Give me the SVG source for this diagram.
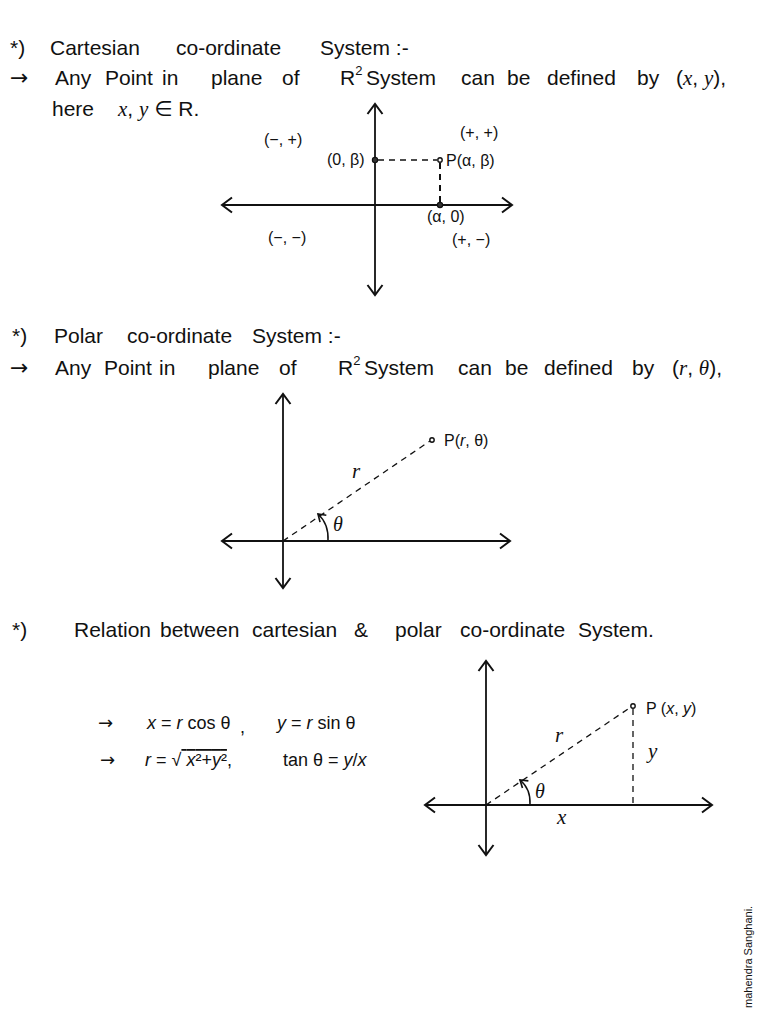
<svg xmlns="http://www.w3.org/2000/svg" width="768" height="1024" viewBox="0 0 768 1024">
<defs>
<style>
.t{font-family:"Liberation Sans","DejaVu Sans",sans-serif;font-size:21px;fill:#111}
.ar{font-family:"DejaVu Sans",sans-serif;font-size:22px;fill:#111}
.m{font-family:"Liberation Serif","DejaVu Serif",serif;font-size:21px;fill:#111;font-style:italic}
.s{font-family:"Liberation Sans","DejaVu Sans",sans-serif;font-size:16px;fill:#111}
.e{font-family:"Liberation Sans","DejaVu Sans",sans-serif;font-size:18px;fill:#111}
.ax{stroke:#111;stroke-width:1.8;fill:none}
.dash{stroke:#111;stroke-width:1.3;fill:none;stroke-dasharray:6 5}
.pt{fill:#fff;stroke:#111;stroke-width:1.4}
.pf{fill:#333;stroke:#111;stroke-width:1.2}
</style>
<marker id="ah" markerUnits="userSpaceOnUse" markerWidth="20" markerHeight="20" viewBox="-10 -8 12 16" refX="0" refY="0" orient="auto">
<path d="M -8 -6 L 0 0 L -8 6" fill="none" stroke="#111" stroke-width="1.6"/>
</marker>
<marker id="ahs" markerUnits="userSpaceOnUse" markerWidth="14" markerHeight="14" viewBox="-8 -6 10 12" refX="0" refY="0" orient="auto">
<path d="M -6 -4 L 0 0 L -6 4" fill="none" stroke="#111" stroke-width="1.4"/>
</marker>
</defs>
<rect width="768" height="1024" fill="#fff"/>

<g id="section1-text">
<text class="t" x="10" y="55">*)</text>
<text class="t" x="50" y="55">Cartesian</text>
<text class="t" x="176" y="55">co-ordinate</text>
<text class="t" x="320" y="55">System :-</text>
<text class="ar" x="10" y="85">→</text>
<text class="t" x="55" y="85">Any</text>
<text class="t" x="105" y="85">Point</text>
<text class="t" x="162" y="85">in</text>
<text class="t" x="211" y="85">plane</text>
<text class="t" x="282" y="85">of</text>
<text class="t" x="340" y="85">R<tspan font-size="13" dy="-10">2</tspan></text>
<text class="t" x="366" y="85">System</text>
<text class="t" x="461" y="85">can</text>
<text class="t" x="507" y="85">be</text>
<text class="t" x="547" y="85">defined</text>
<text class="t" x="637" y="85">by</text>
<text class="t" x="676" y="85">(<tspan class="m">x</tspan>, <tspan class="m">y</tspan>),</text>
<text class="t" x="52" y="116">here</text>
<text class="t" x="118" y="116"><tspan class="m">x</tspan>, <tspan class="m">y</tspan> ∈ R.</text>
</g>

<g id="cartesian-diagram">
<g id="connectors1">
<line class="ax" x1="375" y1="205" x2="375" y2="104" marker-end="url(#ah)"/>
<line class="ax" x1="375" y1="205" x2="375" y2="295" marker-end="url(#ah)"/>
<line class="ax" x1="375" y1="205" x2="512" y2="205" marker-end="url(#ah)"/>
<line class="ax" x1="375" y1="205" x2="222" y2="205" marker-end="url(#ah)"/>
<line class="dash" x1="378" y1="160" x2="437" y2="160"/>
<line class="dash" x1="440" y1="163" x2="440" y2="202" style="stroke-width:2"/>
</g>
<g id="q2"><text class="s" x="264" y="145">(−, +)</text></g>
<g id="q1"><text class="s" x="460" y="138">(+, +)</text></g>
<g id="q3"><text class="s" x="268" y="243">(−, −)</text></g>
<g id="q4"><text class="s" x="452" y="245">(+, −)</text></g>
<g id="p0b"><circle class="pf" cx="375" cy="160" r="2.6"/><text class="s" x="327" y="165">(0, β)</text></g>
<g id="pab"><circle class="pt" cx="440" cy="160" r="2.2"/><text class="s" x="446" y="166">P(α, β)</text></g>
<g id="pa0"><circle class="pf" cx="440" cy="205" r="2.6"/><text class="s" x="427" y="222">(α, 0)</text></g>
</g>

<g id="section2-text">
<text class="t" x="12" y="343">*)</text>
<text class="t" x="54" y="343">Polar</text>
<text class="t" x="127" y="343">co-ordinate</text>
<text class="t" x="252" y="343">System :-</text>
<text class="ar" x="10" y="375">→</text>
<text class="t" x="55" y="375">Any</text>
<text class="t" x="104" y="375">Point</text>
<text class="t" x="159" y="375">in</text>
<text class="t" x="208" y="375">plane</text>
<text class="t" x="279" y="375">of</text>
<text class="t" x="338" y="375">R<tspan font-size="13" dy="-10">2</tspan></text>
<text class="t" x="364" y="375">System</text>
<text class="t" x="458" y="375">can</text>
<text class="t" x="505" y="375">be</text>
<text class="t" x="544" y="375">defined</text>
<text class="t" x="632" y="375">by</text>
<text class="t" x="672" y="375">(<tspan class="m">r</tspan>, <tspan class="m">θ</tspan>),</text>
</g>

<g id="polar-diagram">
<g id="connectors2">
<line class="ax" x1="283" y1="541" x2="283" y2="394" marker-end="url(#ah)"/>
<line class="ax" x1="283" y1="541" x2="283" y2="588" marker-end="url(#ah)"/>
<line class="ax" x1="283" y1="541" x2="510" y2="541" marker-end="url(#ah)"/>
<line class="ax" x1="283" y1="541" x2="222" y2="541" marker-end="url(#ah)"/>
<line class="dash" x1="283" y1="541" x2="430" y2="441"/>
<path class="ax" style="stroke-width:1.5" d="M 328 541 Q 329 524 318 514" marker-end="url(#ahs)"/>
</g>
<g id="p-polar"><circle class="pt" cx="432" cy="440" r="2.2"/><text class="s" x="444" y="446">P(<tspan font-style="italic">r</tspan>, θ)</text></g>
<g id="r-label"><text class="m" x="352" y="478">r</text></g>
<g id="theta-label"><text class="m" x="333" y="531" style="font-size:20px">θ</text></g>
</g>

<g id="section3-text">
<text class="t" x="12" y="637">*)</text>
<text class="t" x="74" y="637">Relation</text>
<text class="t" x="160" y="637">between</text>
<text class="t" x="252" y="637">cartesian</text>
<text class="t" x="354" y="637">&amp;</text>
<text class="t" x="395" y="637">polar</text>
<text class="t" x="460" y="637">co-ordinate</text>
<text class="t" x="578" y="637">System.</text>
</g>

<g id="equations">
<text class="ar" x="98" y="729" style="font-size:18px">→</text>
<text class="e" x="147" y="729"><tspan font-style="italic">x</tspan> = <tspan font-style="italic">r</tspan> cos θ</text>
<text class="e" x="240" y="733">,</text>
<text class="e" x="277" y="729"><tspan font-style="italic">y</tspan> = <tspan font-style="italic">r</tspan> sin θ</text>
<text class="ar" x="100" y="766" style="font-size:18px">→</text>
<text class="e" x="145" y="766"><tspan font-style="italic">r</tspan> = √<tspan text-decoration="overline"> <tspan font-style="italic">x</tspan>²+<tspan font-style="italic">y</tspan>²</tspan>,</text>
<text class="e" x="283" y="766">tan θ = <tspan font-style="italic">y</tspan>/<tspan font-style="italic">x</tspan></text>
</g>

<g id="relation-diagram">
<g id="connectors3">
<line class="ax" x1="486" y1="805" x2="486" y2="661" marker-end="url(#ah)"/>
<line class="ax" x1="486" y1="805" x2="486" y2="855" marker-end="url(#ah)"/>
<line class="ax" x1="486" y1="805" x2="712" y2="805" marker-end="url(#ah)"/>
<line class="ax" x1="486" y1="805" x2="425" y2="805" marker-end="url(#ah)"/>
<line class="dash" x1="486" y1="805" x2="631" y2="707"/>
<line class="dash" x1="633" y1="709" x2="633" y2="805"/>
<path class="ax" style="stroke-width:1.5" d="M 530 805 Q 531 789 520 780" marker-end="url(#ahs)"/>
</g>
<g id="p-xy"><circle class="pt" cx="633" cy="706" r="2.2"/><text class="s" x="646" y="714">P (<tspan font-style="italic">x</tspan>, <tspan font-style="italic">y</tspan>)</text></g>
<g id="r-label3"><text class="m" x="555" y="742">r</text></g>
<g id="y-label"><text class="m" x="648" y="758">y</text></g>
<g id="theta-label3"><text class="m" x="535" y="798" style="font-size:20px">θ</text></g>
<g id="x-label"><text class="m" x="557" y="824">x</text></g>
</g>

<g id="signature">
<text class="s" style="font-size:11px" transform="translate(752,1008) rotate(-90)">mahendra Sanghani.</text>
</g>
</svg>
